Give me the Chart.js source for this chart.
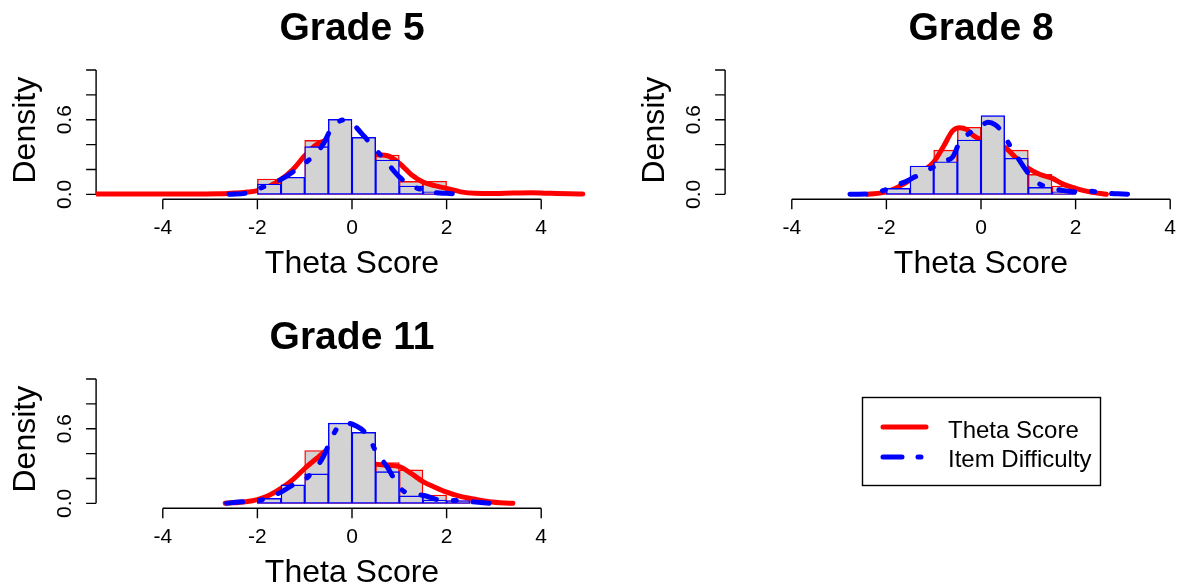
<!DOCTYPE html>
<html>
<head>
<meta charset="utf-8">
<script src="https://cdn.jsdelivr.net/npm/chart.js@4/dist/chart.umd.min.js"></script>
<style>
  html, body { margin: 0; padding: 0; background: #fff; overflow: hidden; width: 1182px; height: 586px; }
  canvas { position: absolute; }
</style>
</head>
<body>
<canvas id="g5" width="620" height="300" style="left:0px;top:0px"></canvas>
<canvas id="g8" width="620" height="300" style="left:629px;top:0px"></canvas>
<canvas id="g11" width="1182" height="277" style="left:0px;top:309px"></canvas>
<script>
// axis ticks
const xTickValues = [-4, -2, 0, 2, 4];
const yTickValues = [0, 0.2, 0.4, 0.6, 0.8, 1.0];
const yTickLabels = ['0.0', '', '', '0.6', '', ''];

// histogram bins (width 0.5)
const binCenters8 = [-1.75, -1.25, -0.75, -0.25, 0.25, 0.75, 1.25, 1.75];
const binCenters9 = [-1.75, -1.25, -0.75, -0.25, 0.25, 0.75, 1.25, 1.75, 2.25];

// Grade 5
const g5ThetaHist = [0.123, 0.12, 0.434, 0.55, 0.42, 0.316, 0.104, 0.105];
const g5ItemHist = [0.083, 0.137, 0.383, 0.603, 0.458, 0.276, 0.067, 0.02];
const g5ThetaX = [-5.41, -4.5, -3.5, -2.8, -2.5, -2.2, -2.0, -1.75, -1.5, -1.25, -1.0, -0.75, -0.5, -0.25, 0, 0.25, 0.5, 0.75, 1.0, 1.25, 1.5, 1.75, 2.0, 2.3, 2.6, 3.0, 3.4, 3.8, 4.2, 4.6, 4.88];
const g5ThetaY = [0.002, 0.002, 0.002, 0.004, 0.01, 0.018, 0.03, 0.065, 0.12, 0.2, 0.31, 0.4, 0.44, 0.45, 0.42, 0.36, 0.32, 0.31, 0.25, 0.16, 0.1, 0.07, 0.048, 0.02, 0.008, 0.006, 0.01, 0.012, 0.008, 0.004, 0.002];
const g5ItemX = [-2.6, -2.2, -2.0, -1.75, -1.5, -1.25, -1.0, -0.75, -0.6, -0.45, -0.3, -0.15, 0, 0.25, 0.5, 0.75, 1.0, 1.25, 1.5, 1.75, 2.0, 2.35];
const g5ItemY = [0.0, 0.012, 0.04, 0.08, 0.12, 0.18, 0.25, 0.33, 0.41, 0.52, 0.58, 0.6, 0.57, 0.47, 0.36, 0.25, 0.14, 0.07, 0.035, 0.015, 0.008, 0.0];

// Grade 8
const g8ThetaHist = [0.05, 0.2, 0.356, 0.539, 0.45, 0.356, 0.16, 0.067];
const g8ItemHist = [0.048, 0.228, 0.262, 0.437, 0.633, 0.29, 0.056, 0.02];
const g8ThetaX = [-2.4, -2.0, -1.75, -1.5, -1.25, -1.0, -0.8, -0.6, -0.45, -0.3, -0.15, 0, 0.25, 0.5, 0.75, 1.0, 1.25, 1.5, 1.75, 2.0, 2.3, 2.65];
const g8ThetaY = [0.0, 0.02, 0.06, 0.115, 0.18, 0.26, 0.38, 0.51, 0.535, 0.52, 0.47, 0.44, 0.42, 0.38, 0.29, 0.21, 0.16, 0.13, 0.08, 0.048, 0.02, 0.0];
const g8ItemX = [-2.77, -2.3, -2.0, -1.8, -1.5, -1.25, -1.0, -0.75, -0.6, -0.45, -0.25, 0, 0.15, 0.3, 0.45, 0.6, 0.75, 1.0, 1.25, 1.5, 1.75, 2.0, 2.3, 2.6, 2.9, 3.22];
const g8ItemY = [0.0, 0.005, 0.04, 0.07, 0.12, 0.17, 0.22, 0.27, 0.3, 0.42, 0.49, 0.55, 0.58, 0.56, 0.5, 0.4, 0.31, 0.17, 0.08, 0.05, 0.03, 0.02, 0.025, 0.01, 0.004, 0.0];

// Grade 11
const g11ThetaHist = [0.04, 0.14, 0.425, 0.45, 0.42, 0.328, 0.269, 0.067, 0.02];
const g11ItemHist = [0.04, 0.148, 0.237, 0.645, 0.57, 0.255, 0.06, 0.027, 0.022];
const g11ThetaX = [-2.68, -2.25, -2.0, -1.75, -1.5, -1.25, -1.0, -0.75, -0.55, -0.25, 0, 0.25, 0.5, 0.75, 1.0, 1.25, 1.5, 1.75, 2.0, 2.25, 2.5, 2.9, 3.4];
const g11ThetaY = [0.0, 0.013, 0.03, 0.065, 0.12, 0.19, 0.28, 0.36, 0.42, 0.44, 0.4, 0.34, 0.315, 0.305, 0.295, 0.24, 0.175, 0.13, 0.09, 0.06, 0.04, 0.013, 0.0];
const g11ItemX = [-2.65, -2.4, -2.0, -1.75, -1.5, -1.25, -1.0, -0.75, -0.6, -0.45, -0.3, -0.1, 0.1, 0.25, 0.4, 0.5, 0.75, 0.95, 1.1, 1.5, 1.85, 2.2, 2.55, 2.9];
const g11ItemY = [0.0, 0.01, 0.02, 0.05, 0.09, 0.148, 0.19, 0.29, 0.38, 0.51, 0.61, 0.645, 0.62, 0.58, 0.5, 0.42, 0.29, 0.16, 0.095, 0.065, 0.027, 0.022, 0.012, 0.0];

const legendLabels = ['Theta Score', 'Item Difficulty'];

const RED = '#ff0000';
const BLUE = '#0000ff';
const GREY = '#d3d3d3';
const FONT = '"Liberation Sans", Arial, sans-serif';
const BLUE_DASH = [16, 17, 3, 17];

// R-style axes, titles and legend
const rAxes = {
  id: 'rAxes',
  beforeDatasetsDraw(chart, args, opts) {
    const {ctx, chartArea: a, scales: {x, y}} = chart;
    ctx.save();
    ctx.strokeStyle = '#000';
    ctx.fillStyle = '#000';
    ctx.lineWidth = 1.4;
    ctx.beginPath();
    const x0 = x.getPixelForValue(xTickValues[0]);
    const x1 = x.getPixelForValue(xTickValues[xTickValues.length - 1]);
    ctx.moveTo(x0, a.bottom);
    ctx.lineTo(x1, a.bottom);
    xTickValues.forEach(v => {
      const px = x.getPixelForValue(v);
      ctx.moveTo(px, a.bottom);
      ctx.lineTo(px, a.bottom + 10);
    });
    const y0 = y.getPixelForValue(yTickValues[0]);
    const y1 = y.getPixelForValue(yTickValues[yTickValues.length - 1]);
    ctx.moveTo(a.left, y0);
    ctx.lineTo(a.left, y1);
    yTickValues.forEach(v => {
      const py = y.getPixelForValue(v);
      ctx.moveTo(a.left, py);
      ctx.lineTo(a.left - 10, py);
    });
    ctx.stroke();

    // tick labels
    ctx.font = '21px ' + FONT;
    ctx.textAlign = 'center';
    ctx.textBaseline = 'alphabetic';
    xTickValues.forEach(v => {
      ctx.fillText(String(v), x.getPixelForValue(v), a.bottom + 35);
    });
    yTickValues.forEach((v, i) => {
      if (!yTickLabels[i]) return;
      ctx.save();
      ctx.translate(a.left - 25, y.getPixelForValue(v));
      ctx.rotate(-Math.PI / 2);
      ctx.fillText(yTickLabels[i], 0, 0);
      ctx.restore();
    });

    // title and axis titles
    const cx = x.getPixelForValue(0);
    ctx.font = 'bold 39px ' + FONT;
    ctx.fillText(opts.title, cx, a.top - 25);
    ctx.font = '32px ' + FONT;
    ctx.fillText('Theta Score', cx, a.bottom + 73.4);
    ctx.save();
    ctx.translate(a.left - 61, (a.top + a.bottom) / 2 - 2);
    ctx.rotate(-Math.PI / 2);
    ctx.fillText('Density', 0, 0);
    ctx.restore();
    ctx.restore();
  },
  afterDraw(chart, args, opts) {
    if (!opts.legend) return;
    const ctx = chart.ctx;
    const ds = chart.data.datasets;
    const lineSets = [ds[1], ds[3]];
    ctx.save();
    ctx.strokeStyle = '#000';
    ctx.lineWidth = 1.4;
    ctx.strokeRect(862.5, 88.5, 238, 88);
    lineSets.forEach((d, i) => {
      const ly = 118 + i * 30;
      ctx.beginPath();
      ctx.strokeStyle = d.borderColor;
      ctx.lineWidth = d.borderWidth;
      ctx.lineCap = 'round';
      ctx.setLineDash(d.borderDash ? [19, 16, 3, 16] : []);
      ctx.moveTo(883, ly);
      ctx.lineTo(926, ly);
      ctx.stroke();
    });
    ctx.setLineDash([]);
    ctx.fillStyle = '#000';
    ctx.font = '24px ' + FONT;
    ctx.textAlign = 'left';
    legendLabels.forEach((t, i) => ctx.fillText(t, 948, 128.5 + i * 29));
    ctx.restore();
  }
};

function pts(xs, ys) {
  return xs.map((v, i) => ({x: v, y: ys[i]}));
}

function panel(id, title, centers, thetaHist, itemHist, thetaX, thetaY, itemX, itemY, legend) {
  const canvas = document.getElementById(id);
  const W = canvas.width, H = canvas.height;
  const barOpts = {
    type: 'bar',
    backgroundColor: GREY,
    borderWidth: 1.4,
    borderSkipped: false,
    grouped: false,
    barPercentage: 1,
    categoryPercentage: 1
  };
  new Chart(canvas.getContext('2d'), {
    type: 'bar',
    data: {
      datasets: [
        Object.assign({}, barOpts, {
          label: 'Theta Score hist',
          data: pts(centers, thetaHist),
          borderColor: RED,
          order: 4
        }),
        {
          type: 'line',
          label: 'Theta Score',
          data: pts(thetaX, thetaY),
          borderColor: RED,
          borderWidth: 5,
          pointRadius: 0,
          cubicInterpolationMode: 'monotone',
          borderCapStyle: 'round',
          borderJoinStyle: 'round',
          fill: false,
          order: 3
        },
        Object.assign({}, barOpts, {
          label: 'Item Difficulty hist',
          data: pts(centers, itemHist),
          borderColor: BLUE,
          order: 2
        }),
        {
          type: 'line',
          label: 'Item Difficulty',
          data: pts(itemX, itemY),
          borderColor: BLUE,
          borderWidth: 5,
          borderDash: BLUE_DASH,
          pointRadius: 0,
          cubicInterpolationMode: 'monotone',
          borderCapStyle: 'round',
          borderJoinStyle: 'round',
          fill: false,
          order: 1
        }
      ]
    },
    options: {
      responsive: false,
      devicePixelRatio: 1,
      animation: false,
      events: [],
      layout: {
        padding: {left: 96.1, right: W - 607.9, top: 65, bottom: H - 199.3}
      },
      scales: {
        x: {
          type: 'linear',
          min: -5.41,
          max: 5.41,
          offset: false,
          display: false,
          afterBuildTicks: s => { s.ticks = xTickValues.map(v => ({value: v})); }
        },
        y: {
          type: 'linear',
          min: -0.04,
          max: 1.04,
          display: false,
          afterBuildTicks: s => { s.ticks = yTickValues.map(v => ({value: v})); }
        }
      },
      plugins: {
        legend: {display: false},
        tooltip: {enabled: false},
        title: {display: false},
        rAxes: {title: title, legend: legend}
      }
    },
    plugins: [rAxes]
  });
}

panel('g5', 'Grade 5', binCenters8, g5ThetaHist, g5ItemHist, g5ThetaX, g5ThetaY, g5ItemX, g5ItemY, false);
panel('g8', 'Grade 8', binCenters8, g8ThetaHist, g8ItemHist, g8ThetaX, g8ThetaY, g8ItemX, g8ItemY, false);
panel('g11', 'Grade 11', binCenters9, g11ThetaHist, g11ItemHist, g11ThetaX, g11ThetaY, g11ItemX, g11ItemY, true);
</script>
</body>
</html>
